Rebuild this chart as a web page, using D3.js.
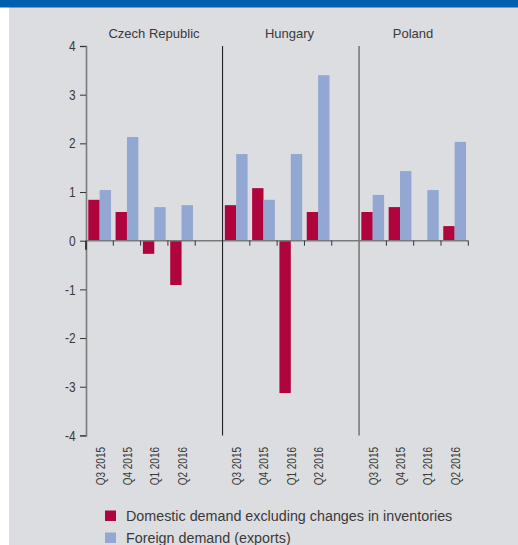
<!DOCTYPE html>
<html><head><meta charset="utf-8">
<script src="https://cdn.jsdelivr.net/npm/d3@7/dist/d3.min.js"></script>
<style>body{margin:0;background:#fff;} svg{display:block;}</style>
</head><body>
<svg id="c" width="518" height="545"></svg>
<script>
const countries = ["Czech Republic", "Hungary", "Poland"];
const quarters = ["Q3 2015", "Q4 2015", "Q1 2016", "Q2 2016"];
const seriesNames = ["Domestic demand excluding changes in inventories", "Foreign demand (exports)"];
const domestic = {
  "Czech Republic": [0.84, 0.59, -0.27, -0.91],
  "Hungary": [0.73, 1.08, -3.13, 0.59],
  "Poland": [0.59, 0.69, 0, 0.30]
};
const foreign = {
  "Czech Republic": [1.04, 2.13, 0.69, 0.73],
  "Hungary": [1.78, 0.84, 1.78, 3.40],
  "Poland": [0.94, 1.43, 1.04, 2.03]
};
const yTicks = [-4, -3, -2, -1, 0, 1, 2, 3, 4];
const colors = ["#b0043f", "#92a7d1"];

const svg = d3.select("#c");
const font = "'Liberation Sans', Arial, sans-serif";
const textCol = "#3a3a3a";

// background
svg.append("rect").attr("x", 0).attr("y", 0).attr("width", 518).attr("height", 545).attr("fill", "#ffffff");
svg.append("rect").attr("x", 9).attr("y", 0).attr("width", 509).attr("height", 545).attr("fill", "#dcdde0");
svg.append("rect").attr("x", 0).attr("y", 0).attr("width", 518).attr("height", 7.5).attr("fill", "#0060ad");

// slot domain: 4 quarters per country, one gap slot between countries
const slots = [];
countries.forEach((c, i) => {
  quarters.forEach(q => slots.push(c + "|" + q));
  if (i < countries.length - 1) slots.push("gap" + i);
});
const x = d3.scaleBand().domain(slots).range([86, 468.3]).padding(0);
const xi = d3.scaleBand().domain([0, 1]).range([0, x.bandwidth()]).paddingInner(0).paddingOuter(0.2);
const y = d3.scaleLinear().domain([-4, 4]).range([435.4, 46]);

// y axis
const ySx = 0.82;
const yAxis = d3.axisLeft(y).tickValues(yTicks).tickSize(6).tickPadding(4).tickFormat(d => String(d));
const ya = svg.append("g").attr("transform", "translate(86,0)").call(yAxis);
ya.select(".domain").attr("stroke", "#7a7a7a").attr("stroke-width", 1.6);
ya.selectAll(".tick line").attr("stroke", "#333").attr("stroke-width", 1);
ya.selectAll(".tick text").attr("font-family", font).attr("font-size", 14.5).attr("fill", textCol)
  .attr("x", -10.5 / ySx).attr("transform", `scale(${ySx},1)`);

// bars
const data = [];
countries.forEach(c => quarters.forEach((q, qi) => {
  data.push({slot: c + "|" + q, s: 0, v: domestic[c][qi]});
  data.push({slot: c + "|" + q, s: 1, v: foreign[c][qi]});
}));
svg.append("g").selectAll("rect").data(data.filter(d => d.v !== 0)).join("rect")
  .attr("x", d => x(d.slot) + xi(d.s))
  .attr("width", xi.bandwidth())
  .attr("y", d => y(Math.max(0, d.v)))
  .attr("height", d => Math.abs(y(d.v) - y(0)))
  .attr("fill", d => colors[d.s]);

// zero line
svg.append("line").attr("x1", 86).attr("x2", 468.3).attr("y1", y(0)).attr("y2", y(0))
  .attr("stroke", "#7a7a7a").attr("stroke-width", 1.6);
// ticks on zero line at end of each data slot
const tickSlots = slots.filter(s => !s.startsWith("gap"));
svg.append("g").selectAll("line").data(tickSlots).join("line")
  .attr("x1", d => x(d) + x.bandwidth()).attr("x2", d => x(d) + x.bandwidth())
  .attr("y1", y(0)).attr("y2", y(0) + 5)
  .attr("stroke", "#333").attr("stroke-width", 1);
// small dark mark at axis origin
svg.append("line").attr("x1", 86).attr("x2", 86).attr("y1", y(0)).attr("y2", y(0) + 9)
  .attr("stroke", "#222").attr("stroke-width", 1.6);

// separators
const seps = [{x: x(countries[1] + "|" + quarters[0]), c: "#222", w: 1.1}, {x: x(countries[2] + "|" + quarters[0]), c: "#7a7a7a", w: 1.6}];
svg.append("g").selectAll("line").data(seps).join("line")
  .attr("x1", d => d.x).attr("x2", d => d.x).attr("y1", y(4)).attr("y2", y(-4))
  .attr("stroke", d => d.c).attr("stroke-width", d => d.w);

// country labels
const labelX = [154, 289.5, 413];
svg.append("g").selectAll("text").data(countries).join("text")
  .attr("x", (d, i) => labelX[i]).attr("y", 38)
  .attr("text-anchor", "middle").attr("font-family", font).attr("font-size", 13).attr("fill", textCol)
  .text(d => d);

// x labels (rotated, condensed)
const xSx = 0.74;
svg.append("g").selectAll("text").data(tickSlots).join("text")
  .attr("transform", d => `translate(${x(d) + x.bandwidth() / 2 + 5},447) rotate(-90) scale(${xSx},1)`)
  .attr("text-anchor", "end").attr("font-family", font).attr("font-size", 13.5).attr("fill", textCol)
  .text(d => d.split("|")[1]);

// legend
const lSx = 0.955;
const lg = svg.append("g").selectAll("g").data(seriesNames).join("g")
  .attr("transform", (d, i) => `translate(105,${510.5 + i * 22})`);
lg.append("rect").attr("width", 11).attr("height", 10.5).attr("fill", (d, i) => colors[i]);
lg.append("text").attr("x", 21 / lSx).attr("y", 10.8).attr("transform", `scale(${lSx},1)`)
  .attr("font-family", font).attr("font-size", 15)
  .attr("fill", textCol).text(d => d);
</script>
</body></html>
